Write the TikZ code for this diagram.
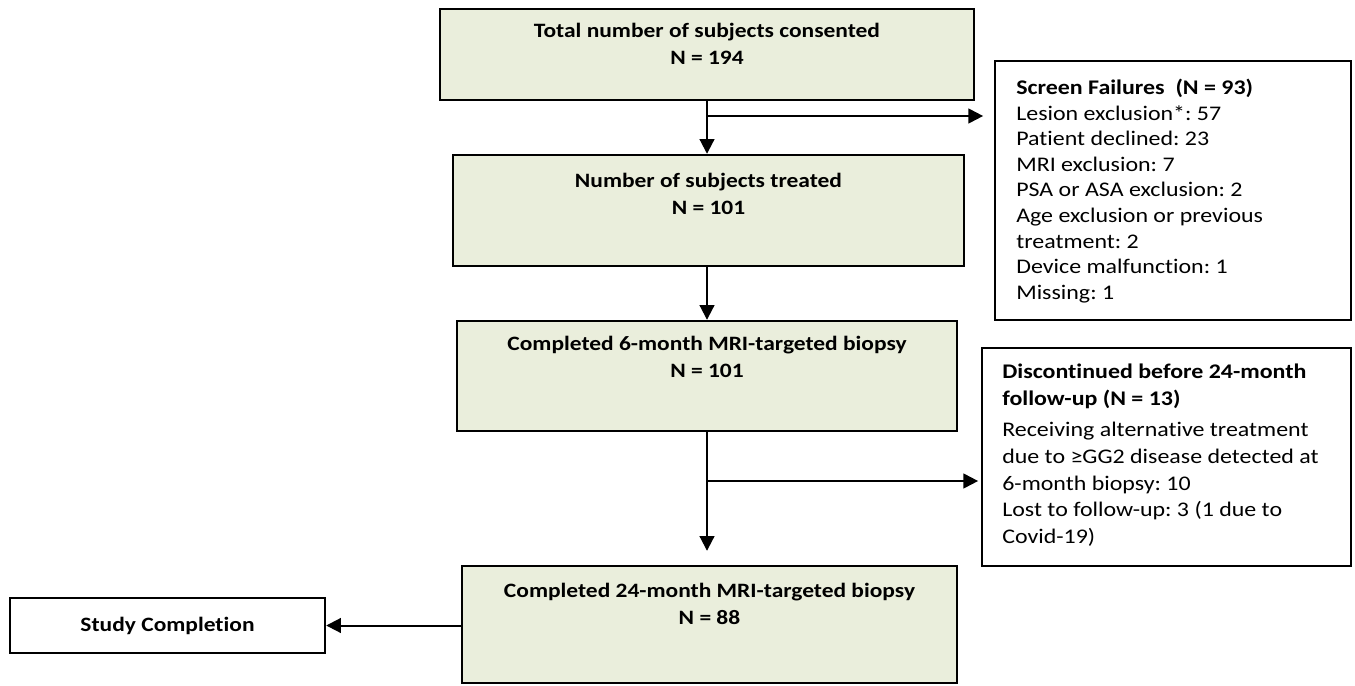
\documentclass[tikz,border=0pt]{standalone}
\usepackage{fontspec}
\setmainfont{Carlito}[Ligatures=NoCommon, FakeStretch=1.15]
\usetikzlibrary{arrows.meta,positioning}
\definecolor{boxgreen}{RGB}{234,238,220}
\frenchspacing

\tikzset{every picture/.style={line width=0.75pt}}
\tikzset{
	greenbox/.style={draw, line width=1.8pt, fill=boxgreen, inner sep=0pt},
	whitebox/.style={draw, line width=1.8pt, fill=white, inner sep=0pt},
	boxtxt/.style={inner sep=0pt, align=center, font=\fontsize{15.3}{20.2}\selectfont\bfseries},
	sidetxt/.style={inner sep=0pt, align=left, font=\fontsize{15.6}{19.2}\selectfont},
	flow/.style={line width=1.5pt, -{Triangle[length=11pt,width=11pt]}},
}

\begin{document}
\begin{tikzpicture}[x=0.75pt,y=0.75pt,yscale=-1,xscale=1]
	\useasboundingbox (0,0) rectangle (1355,685);

	%Shape: Rectangles
	\node[greenbox, minimum width=400.5pt, minimum height=68.25pt] (consent) at (707,54.5) {};
	\node[greenbox, minimum width=383.25pt, minimum height=83.25pt] (treated) at (708.5,210.5) {};
	\node[greenbox, minimum width=375pt, minimum height=82.5pt] (biopsysix) at (707,376) {};
	\node[greenbox, minimum width=371.25pt, minimum height=87.75pt] (biopsytwf) at (709.5,624.5) {};
	\node[whitebox, minimum width=236.25pt, minimum height=41.25pt, font=\fontsize{15.3}{19.8}\selectfont\bfseries] (study) at (167.5,625.5) {Study Completion};
	\node[whitebox, minimum width=267pt, minimum height=194.25pt] (screen) at (1173,190.5) {};
	\node[whitebox, minimum width=276.75pt, minimum height=163.5pt] (discont) at (1166.5,457) {};

	% Text Node
	\node[boxtxt, below=11.5pt of consent.north] (consenttxt) {Total number of subjects consented\\N = 194};
	% Text Node
	\node[boxtxt, below=14pt of treated.north] (treatedtxt) {Number of subjects treated\\N = 101};
	% Text Node
	\node[boxtxt, below=12pt of biopsysix.north] (biopsysixtxt) {Completed 6-month MRI-targeted biopsy\\N = 101};
	% Text Node
	\node[boxtxt, below=13.5pt of biopsytwf.north] (biopsytwftxt) {Completed 24-month MRI-targeted biopsy\\N = 88};
	% Text Node
	\node[sidetxt, below right=14pt and 16.5pt of screen.north west] (screentxt) {\textbf{Screen Failures\ \ (N = 93)}\\Lesion exclusion*: 57\\Patient declined: 23\\MRI exclusion: 7\\PSA or ASA exclusion: 2\\Age exclusion or previous\\treatment: 2\\Device malfunction: 1\\Missing: 1};
	% Text Node
	\node[sidetxt, below right=12.5pt and 15.75pt of discont.north west, font=\fontsize{15.6}{20}\selectfont] (discontxt) {\textbf{Discontinued before 24-month}\\\textbf{follow-up (N = 13)}\\[3.75pt]Receiving alternative treatment\\due to ≥GG2 disease detected at\\6-month biopsy: 10\\Lost to follow-up: 3 (1 due to\\Covid-19)};

	%Straight Lines
	\coordinate (splitone) at (707,116);
	\coordinate (splittwo) at (707,481);
	\draw[flow] (consent.south) -- (consent.south |- treated.north);
	\draw[flow, shorten >=8pt] (splitone) -- (splitone -| screen.west);
	\draw[flow] (biopsysix.north |- treated.south) -- (biopsysix.north);
	\draw[flow, shorten >=10.5pt] (biopsysix.south) -- (biopsysix.south |- biopsytwf.north);
	\draw[flow, shorten >=2pt] (splittwo) -- (splittwo -| discont.west);
	\draw[flow] (biopsytwf.west |- study.east) -- (study.east);

\end{tikzpicture}
\end{document}
